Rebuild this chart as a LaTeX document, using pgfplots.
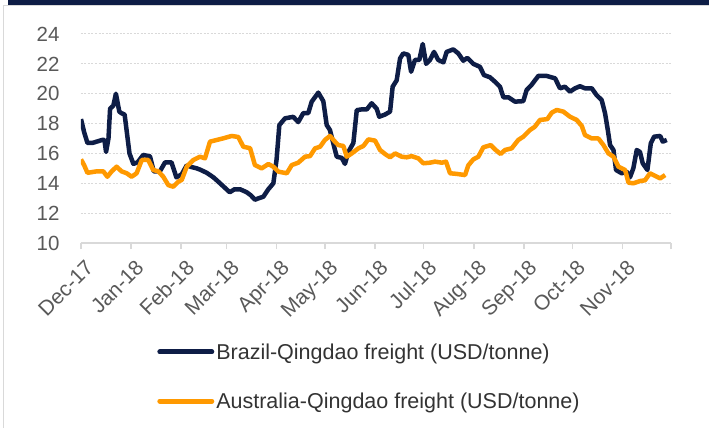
\documentclass[border=0pt]{standalone}
\usepackage{pgfplots}
\pgfplotsset{compat=1.18}
\usepackage{fontspec}
\setmainfont{Liberation Sans}
\definecolor{navy}{RGB}{14,29,70}
\definecolor{orng}{RGB}{255,153,0}
\definecolor{gridc}{RGB}{217,217,217}
\definecolor{txt}{RGB}{89,89,89}
\begin{document}
\begin{tikzpicture}[x=1pt,y=1pt]
\path[use as bounding box] (0,0) rectangle (709,428);
\draw[gridc, line width=1.5pt] (3.7,0) -- (3.7,422.3) -- (709,422.3);
\fill[navy] (8,423) rectangle (709,428);
\begin{axis}[
 at={(81pt,185pt)}, anchor=south west, scale only axis,
 width=590pt, height=209pt,
 xmin=0, xmax=365, ymin=10, ymax=24,
 /pgf/number format/assume math mode=true,
 axis x line*=bottom, axis y line*=left,
 y axis line style={draw=none},
 x axis line style={gridc, line width=1.8pt},
 ytick={10,12,...,24},
 ytick style={draw=none},
 xtick={0,31,62,90,121,151,182,212,243,274,304,335,365},
 xticklabels={Dec-17,Jan-18,Feb-18,Mar-18,Apr-18,May-18,Jun-18,Jul-18,Aug-18,Sep-18,Oct-18,Nov-18,{}},
 xtick style={gridc, line width=1.5pt},
 tick align=outside, major tick length=6pt,
 ymajorgrids, grid style={gridc, dash pattern=on 2pt off 1.5pt, line width=1pt},
 yticklabel style={font=\fontsize{20.5}{24}\selectfont, text=txt, xshift=-12pt},
 xticklabel style={font=\fontsize{21}{25}\selectfont, text=txt, rotate=45, anchor=north east, xshift=-1pt, yshift=-6pt},
 legend style={at={(axis description cs:0.129,-0.47)}, anchor=north west, draw=none, fill=none,
   font=\fontsize{21.5}{25}\selectfont, text=black!80, row sep=28pt, inner sep=0pt,
   nodes={inner sep=2pt}},
 legend cell align=left,
 legend image code/.code={\draw[#1, line width=5pt, line cap=round] (0pt,0pt) -- (52pt,0pt);},
]
\addplot[navy, line width=4.5pt, line join=round] table {
0 18.3
2 17.4
4 16.7
7 16.7
10 16.8
13 16.9
14.5 16.9
15.5 16.1
17 17.0
18 19.0
20 19.2
21.6 20.0
23.7 18.8
25 18.7
27 18.6
28.5 17.3
30 16.0
32.4 15.3
35 15.4
38.5 15.9
42.7 15.8
45 14.8
48.8 14.8
52 15.4
56 15.4
59 14.4
62.3 14.6
65.4 15.2
68 15.1
71.6 15.0
74 14.9
77.8 14.7
81.9 14.4
85 14.1
88 13.8
92 13.4
95 13.6
98.4 13.6
102.5 13.4
105 13.2
107.6 12.9
110 13.0
112.8 13.1
115.9 13.6
119 14.0
121 15.6
122.7 17.9
126.2 18.35
131.3 18.45
134.4 18.1
137.5 18.7
140.6 18.7
142.7 19.46
146.8 20.07
149.9 19.5
152 17.9
154 17.57
156.6 16.45
158.2 15.78
161.3 15.7
163.3 15.3
165.4 16.1
168.5 16.7
170.6 18.9
173.7 18.95
176.8 18.95
179.8 19.36
182.9 19.0
184.5 18.46
188 18.6
191.2 18.8
192.8 20.47
195.3 20.9
197.4 22.37
199.4 22.7
202.5 22.6
204.2 21.47
206.6 22.26
209.3 22.26
211.4 23.33
213.5 22.0
215.9 22.26
218.4 22.8
221 22.26
224.2 22.1
226.2 22.8
230.3 22.97
233.4 22.7
236.5 22.21
239 22.4
242.7 22.0
246.8 21.8
249.3 21.25
253 21.1
256.1 20.8
259.2 20.47
261.3 19.76
264.4 19.76
268.5 19.47
273.6 19.5
275.7 20.25
278.8 20.6
282.9 21.19
288.1 21.19
293.3 21.03
296.3 20.36
299.4 20.47
302.5 20.14
305.6 20.36
308.7 20.5
311.8 20.36
316 20.36
319 19.9
322.1 19.58
324.2 18.69
325.9 17.57
327.3 16.56
329.4 16.23
331 14.89
334.5 14.67
337.6 14.78
339.6 14.4
341.7 15.0
343.8 16.23
345.8 16.1
347.5 15.34
350.4 14.89
352.5 16.68
354.5 17.12
358.3 17.17
359.9 16.79
362.4 16.9
};
\addlegendentry{Brazil-Qingdao freight (USD/tonne)}
\addplot[orng, line width=4.5pt, line join=round] table {
0 15.6
2 15.2
4 14.7
9.7 14.8
13.8 14.8
16.3 14.44
19 14.8
22 15.11
25.1 14.8
28.3 14.67
31.3 14.44
34.4 14.67
37.6 15.56
41.6 15.56
44.7 14.89
47.8 14.8
50.9 14.44
54 13.88
57.1 13.77
60.2 14.11
62.3 14.22
65.4 15.11
69.5 15.56
73.6 15.78
76.7 15.67
79.8 16.79
83.9 16.9
88 17.01
93.2 17.17
97.3 17.1
100.4 16.45
104.6 16.35
107.6 15.22
111.8 15.0
115.9 15.29
119 15.11
122.1 14.78
127.3 14.67
130.4 15.22
134.4 15.38
138.6 15.78
141.7 15.82
144.8 16.34
147.9 16.45
150.9 16.9
154 17.17
157.1 16.79
159.2 16.56
162.3 16.5
164.4 15.78
167.5 16.0
171.6 16.34
174.7 16.5
177.8 16.94
181.9 16.86
185 16.23
188.1 15.96
191.2 15.74
194.3 16.0
198.4 15.78
201.5 15.74
204.6 15.82
208.7 15.67
211.8 15.34
215.9 15.38
219 15.45
223.2 15.38
225.8 15.45
228.3 14.67
232.4 14.63
237.6 14.55
239.6 15.2
242.7 15.6
245.8 15.78
248.9 16.41
253.5 16.56
256.1 16.27
259.6 15.96
262.3 16.23
266.4 16.34
270.5 16.9
273.6 17.12
277.8 17.57
280.8 17.79
283.9 18.24
288.5 18.3
291.2 18.73
294.3 18.91
298.4 18.8
302.5 18.46
306.7 18.24
309.8 17.84
311.8 17.23
316 17.0
320.1 17.0
323.2 16.56
326.3 16.0
329.4 15.78
332.5 15.11
336.6 14.89
338.7 14.04
341.7 14.0
345.8 14.15
348.9 14.2
352 14.67
355.1 14.5
358.3 14.33
361.4 14.55
};
\addlegendentry{Australia-Qingdao freight (USD/tonne)}
\end{axis}
\end{tikzpicture}
\end{document}
